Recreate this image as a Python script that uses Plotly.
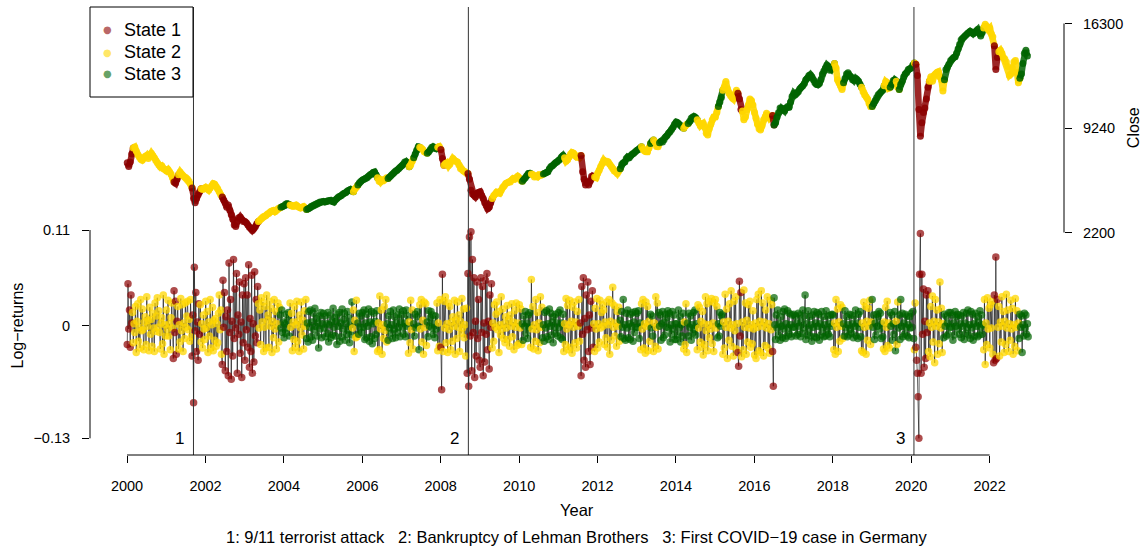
import pandas as pd
import plotly.graph_objects as go

years = list(range(2000, 2023))
state_names = ["State 1", "State 2", "State 3"]
state_colors = ["rgba(139,0,0,0.6)", "rgba(255,215,0,0.6)", "rgba(0,100,0,0.6)"]
state_colors_ret = ["rgba(139,0,0,0.7)", "rgba(255,215,0,0.75)", "rgba(0,100,0,0.7)"]
state_colors_close = ["rgba(139,0,0,0.85)", "rgba(255,215,0,0.9)", "rgba(0,100,0,0.85)"]

# regime switches (decimal year -> state)
regime_start = [2000.00, 2000.13, 2001.17, 2001.28, 2001.65, 2001.85, 2002.42, 2003.35, 2003.90, 2004.15,
                2004.58, 2005.74, 2005.87, 2006.38, 2006.63, 2007.17, 2007.30, 2007.45, 2007.65, 2007.90,
                2008.00, 2008.06, 2008.67, 2009.30, 2010.07, 2010.28, 2010.59, 2011.13, 2011.56, 2011.90,
                2012.58, 2013.09, 2013.35, 2013.42, 2013.55, 2014.19, 2014.28, 2014.54, 2015.05, 2015.18,
                2015.58, 2015.66, 2016.45, 2016.50, 2018.02, 2018.26, 2018.72, 2019.00, 2019.29, 2019.46,
                2019.60, 2019.67, 2020.07, 2020.12, 2020.43, 2020.82, 2021.84, 2022.10, 2022.20, 2022.75]
regime_state = [1, 2, 1, 2, 1, 2, 1, 2, 3, 2,
                3, 2, 3, 2, 3, 2, 3, 2, 3, 2,
                1, 2, 1, 2, 3, 2, 3, 2, 1, 2,
                3, 2, 3, 2, 3, 2, 3, 2, 3, 2,
                1, 2, 1, 3, 2, 3, 2, 3, 2, 3,
                2, 3, 2, 1, 2, 3, 2, 1, 2, 3]

# events
event_dates = ["2001-09-11", "2008-09-15", "2020-01-27"]
event_labels = ["1", "2", "3"]
event_caption = "1: 9/11 terrorist attack   2: Bankruptcy of Lehman Brothers   3: First COVID\u221219 case in Germany"

# closing prices, every two weeks
close_2000 = [6900, 6650, 6950, 7500, 7900, 7960, 7700, 7450, 7300, 7150, 7080, 7250, 7350, 7400, 7200, 7450, 7550, 7400, 7250, 7050, 6900, 6750, 6630, 6700, 6500, 6450]
close_2001 = [6350, 6450, 6300, 6150, 5900, 5600, 5520, 5800, 6100, 6290, 6150, 6050, 5950, 5900, 5800, 5650, 5450, 5200, 4500, 4200, 4500, 4750, 4950, 5150, 5100, 5160]
close_2002 = [5250, 5150, 5050, 5200, 5350, 5500, 5450, 5300, 5150, 4950, 4750, 4590, 4400, 4200, 3900, 4050, 3700, 3400, 3100, 2700, 2600, 2950, 3200, 3250, 3100, 2950]
close_2003 = [2950, 2850, 2700, 2550, 2450, 2340, 2450, 2600, 2800, 2950, 3050, 3150, 3250, 3300, 3350, 3450, 3500, 3600, 3650, 3690, 3600, 3700, 3800, 3850, 3900, 3950]
close_2004 = [4000, 4100, 4150, 4100, 4050, 4000, 3950, 4000, 4050, 3950, 3900, 3850, 3900, 3950, 3850, 3750, 3800, 3850, 3950, 4000, 4050, 4100, 4150, 4200, 4250, 4250]
close_2005 = [4300, 4250, 4300, 4350, 4350, 4370, 4300, 4250, 4400, 4500, 4600, 4650, 4700, 4800, 4850, 4900, 5000, 5050, 5100, 5000, 4950, 5150, 5250, 5400, 5550, 5650]
close_2006 = [5750, 5800, 5850, 5900, 6000, 6100, 6150, 6250, 6290, 6100, 5900, 5650, 5610, 5750, 5700, 5800, 5900, 5850, 5950, 6050, 6150, 6250, 6350, 6400, 6500, 6600]
close_2007 = [6700, 6800, 6950, 6970, 6850, 6630, 6750, 7000, 7250, 7500, 7750, 7980, 7950, 7900, 7800, 7650, 7600, 7550, 7650, 7800, 7950, 7980, 7900, 7850, 7950, 8000]
close_2008 = [7800, 7200, 6740, 6850, 6900, 6700, 6800, 7000, 7200, 7050, 7000, 6950, 6750, 6520, 6450, 6350, 6300, 6200, 6180, 5800, 5050, 4800, 4710, 4600, 4850, 4900]
close_2009 = [4950, 4700, 4500, 4200, 4000, 3810, 3900, 4200, 4500, 4700, 4800, 4930, 4900, 4850, 5050, 5250, 5350, 5500, 5550, 5610, 5600, 5750, 5850, 5800, 5900, 6000]
close_2010 = [5900, 5700, 5650, 5800, 5900, 6050, 6180, 6200, 6150, 6100, 5950, 6000, 5950, 6100, 6050, 6100, 6150, 6200, 6250, 6300, 6500, 6650, 6700, 6800, 6900, 6950]
close_2011 = [7050, 7150, 7300, 7400, 7250, 7000, 7100, 7300, 7500, 7600, 7550, 7400, 7300, 7350, 7250, 7400, 6300, 5800, 5400, 5600, 5400, 5700, 6000, 6000, 5950, 5900]
close_2012 = [6200, 6400, 6650, 6850, 7080, 6950, 7000, 6950, 6800, 6650, 6500, 6350, 6300, 6180, 6350, 6500, 6800, 6900, 6950, 7200, 7300, 7250, 7400, 7500, 7550, 7650]
close_2013 = [7750, 7800, 7900, 7980, 7800, 7700, 7650, 7640, 7900, 8200, 8350, 8440, 8300, 8000, 7980, 8250, 8350, 8300, 8450, 8650, 8750, 8900, 9000, 9150, 9300, 9500]
close_2014 = [9650, 9600, 9500, 9400, 9300, 9230, 9400, 9500, 9550, 9700, 9900, 10000, 10020, 9950, 9800, 9600, 9400, 9500, 9570, 9300, 8900, 8780, 9200, 9500, 9800, 10000]
close_2015 = [10000, 10300, 10700, 11000, 11300, 11800, 12000, 12390, 11900, 11600, 11450, 11300, 11200, 11500, 11800, 11600, 11200, 10500, 10400, 9800, 10000, 10500, 10800, 11200, 11100, 10800]
close_2016 = [10300, 9900, 9500, 9200, 9110, 9400, 9800, 10000, 10250, 10100, 9900, 10000, 10100, 9450, 9600, 10000, 10300, 10600, 10590, 10500, 10400, 10600, 10700, 10650, 11000, 11400]
close_2017 = [11600, 11500, 11600, 11700, 11900, 12000, 12100, 12250, 12500, 12600, 12800, 12840, 12700, 12500, 12300, 12200, 12160, 12250, 12500, 12900, 13100, 13300, 13500, 13400, 13150, 13200]
close_2018 = [13400, 13600, 13300, 12500, 12300, 12100, 11840, 12300, 12600, 12900, 12980, 12800, 12700, 12500, 12450, 12600, 12530, 12400, 12200, 12000, 11700, 11500, 11350, 11200, 10900, 10700]
close_2019 = [10700, 10900, 11100, 11300, 11500, 11600, 11700, 11800, 12100, 12390, 12300, 11940, 12000, 12200, 12450, 12500, 12400, 12000, 11840, 12200, 12400, 12700, 12900, 13000, 13200, 13250]
close_2020 = [13300, 13500, 13640, 13550, 12800, 10500, 8700, 9600, 10300, 10600, 11200, 12000, 12400, 12700, 12400, 12800, 12900, 13000, 13050, 12700, 12500, 11750, 12500, 13200, 13350, 13550]
close_2021 = [13800, 13900, 14000, 14050, 14300, 14600, 14900, 15200, 15300, 15400, 15500, 15600, 15700, 15780, 15700, 15600, 15700, 15800, 15900, 15650, 15450, 15700, 16000, 16250, 16100, 15900]
close_2022 = [16000, 15600, 15400, 14800, 13200, 14000, 14400, 14500, 14300, 14000, 13900, 13700, 13400, 12800, 12900, 13300, 13700, 13800, 13000, 12300, 12600, 12900, 13600, 14300, 14500, 14100]

# weekly log-returns, in thousandths
ret_2000 = [-22, 48, -4, 18, -25, 35, 3, 15, -20, 2, -8, 22, -31, 5, 25, -18, -2, -26, 30, -6, 19, -5, -28, 4, 10, -22, 33, -1, 6, -29, 21, -10, 7, -24, 14, -3, -30, 26, -7, 11, 32, -2, 17, -8, -27, 3, 9, -21, 35, -33, 1, -12]
ret_2001 = [18, -4, 29, -12, 2, -28, 9, 26, -3, -38, 40, -8, 28, -33, 5, 22, -27, 1, -19, 31, -6, 24, -30, 3, -15, 26, -2, 11, 28, -5, 7, -18, 30, -13, -35, 12, -89, 67, -6, 38, -30, 4, -40, 25, -10, 24, -19, 2, -26, 12, -4, -16]
ret_2002 = [28, -3, 16, -31, 4, -12, 30, -26, 1, 21, -29, 6, -17, 8, -24, 2, -20, 14, 35, -5, 18, -33, -45, 52, -2, 38, -52, 10, -30, 18, -58, 72, -8, 30, -62, 5, -35, 76, -15, 42, -3, 60, -55, 12, -10, 50, -32, 4, -60, 35, -20, 48]
ret_2003 = [-40, 55, -5, 35, -25, 70, -48, 8, -30, 58, -55, 2, -42, 62, -12, 30, -20, 45, 25, -3, 18, -22, 32, 4, 27, -30, -2, 22, -26, 35, 6, 12, -25, 28, -1, 20, -31, 5, -14, 30, -4, 16, -27, 2, 26, -19, 21, 12, -3, 18, -8, 4]
ret_2004 = [-14, 2, -9, 13, -3, 6, 15, -12, 26, -2, 14, -29, 4, -16, 22, -25, 1, 28, -18, 5, -30, 12, -3, 27, -11, 6, -27, 17, -1, 30, -15, 3, -19, 16, -2, 18, -13, 4, -17, 14, -5, 20, -1, 8, -12, 3, -26, 11, -4, 15, -14, 2]
ret_2005 = [14, -3, 11, -13, 2, -9, 15, -19, 1, 12, -14, 4, -11, 20, -2, 9, -12, 5, -22, 13, -1, 15, -18, 3, -13, 19, -4, 7, 14, -17, 2, -10, 16, -5, 9, -20, 1, -11, 27, -3, 18, -30, 6, -14, 29, -13, 3, -10, 14, -2, 11, -8]
ret_2006 = [15, -2, 18, -16, 3, -14, 13, -1, 19, -18, 4, -13, 16, -21, 2, 14, -15, 5, -10, 17, -30, 3, -28, 34, -4, 18, -33, 1, -15, 22, -6, 30, -19, 2, -17, 11, -3, 16, -9, 1, -15, 18, -4, 10, -14, 3, -8, 12, -2, 19, -13, 4]
ret_2007 = [12, -2, 17, -10, 3, -13, 18, -1, 11, -32, 4, -20, 29, -5, 18, -27, 2, -12, 13, -3, 10, 16, -1, -28, 24, -4, 30, -19, 6, -33, 27, -2, 25, -23, 4, -13, 17, -1, 9, 16, -3, 12, -10, 2, -14, 11, -4, 26, -29, 3, -24, 30]
ret_2008 = [-25, -74, 59, -30, 28, -3, 33, -20, 2, -31, 26, -5, 22, -28, 4, -18, 10, -1, 29, -33, 6, -15, 27, -2, 12, -30, 5, -9, 31, -3, 19, -14, 1, -35, 20, -55, 60, -70, 102, -12, 108, -52, 76, -8, 55, -60, 5, -35, 50, -15, 30, -40]
ret_2009 = [-48, 55, -8, 45, -58, 3, -42, 52, -10, 60, -28, 5, -50, 35, -2, 48, -26, 3, -18, 24, -2, 13, 27, -5, 16, -31, 1, -11, 33, -4, 19, -15, 2, -20, 10, -3, 23, -16, 6, -24, 12, -1, 25, -13, 4, -28, 17, -2, 26, -23, 3, -21]
ret_2010 = [24, -3, 19, -22, 2, -17, 11, -1, 16, -9, 3, -15, 12, -2, 15, -25, 53, -4, 22, -27, 1, -18, 30, -5, 15, -29, 3, -20, 33, -2, 21, -14, 1, -18, 15, -3, 17, -13, 2, -16, 19, -1, 14, -11, 4, -20, 10, -2, 13, -9, 3, -12]
ret_2011 = [15, -2, 18, -14, 3, -16, 13, -30, 2, -22, 31, -4, 23, -28, 1, 29, -25, 5, -32, 21, -2, 27, -20, 4, -26, 16, -1, 30, -18, 3, -58, 45, -10, 55, -40, 8, -48, 35, -5, 50, -30, 12, -45, 28, -3, 40, -25, 2, -30, 20, -4, 31]
ret_2012 = [-26, 2, -19, 29, -3, 15, 24, -1, 18, -22, 4, -14, 27, -25, 1, 30, -33, 5, -17, 26, 44, -2, 23, -12, 3, -24, 16, -1, 21, -18, 6, -13, 16, -2, 30, -15, 1, -17, 14, -3, 18, -14, 2, -16, 13, -1, 15, -18, 4, -8, 16, -2]
ret_2013 = [14, -2, 17, -15, 3, -28, 25, -4, 30, -26, 2, -32, 27, -1, 22, -29, 5, -18, 13, -3, 11, -12, -30, 3, -24, 33, -2, 26, -27, 15, -1, 12, -17, 2, 16, -14, 4, -11, 13, -2, 9, 17, -3, 14, -19, 1, -10, 16, -4, 12, -16, 2]
ret_2014 = [-16, 2, -11, 18, -3, 10, -19, 1, -12, 14, -27, 4, -22, 25, -31, 3, -12, 14, -2, 11, -17, 1, -9, 15, -4, 18, -11, 2, -28, 24, -3, 21, -19, 5, -25, 16, -34, 2, -22, 33, -6, 25, -29, 1, -14, 28, -4, 31, -21, 3, -30, 26]
ret_2015 = [30, -3, 22, -14, 2, -12, 15, -1, 11, 13, -33, 4, -26, 36, -2, 19, -38, 5, -17, 25, -3, 40, -24, 1, -35, 28, -6, 33, -27, 2, -31, -47, 51, -12, 38, -36, 4, -28, 41, -2, 26, -33, 6, -19, 24, -3, 28, -25, 1, -21, 17, -4]
ret_2016 = [-34, 3, -38, 30, -2, 36, -29, 5, -31, 40, -1, 26, -35, 4, -23, 18, -3, 33, -26, 2, -32, 29, -5, 24, -30, -70, 32, 1, -16, 12, -3, 18, -11, 2, -17, 10, -1, -14, 16, -4, 19, -15, 2, -12, 17, -3, 14, -10, 1, -13, 12, -2]
ret_2017 = [13, -2, 11, -12, 3, -10, 14, -1, 12, -13, 4, -9, 18, -3, 11, 35, -16, 2, -11, 17, -4, 10, -12, 1, -18, 12, -2, 16, -13, 3, -14, 15, -1, 13, -17, 2, -11, 16, -3, 10, -13, 1, -12, 17, -5, 11, -10, 2, -13, 12, -1, 13]
ret_2018 = [12, -28, 3, -33, 30, -2, 19, -30, 4, -18, 24, -1, 21, -15, 2, -12, 17, -3, 10, -13, 1, -11, 13, -4, 12, -9, 2, -14, 11, -1, 18, -12, 3, -15, 13, -2, 16, -13, -29, 3, -31, 27, -2, 22, -33, 5, -17, 20, -1, 29, -22, 4]
ret_2019 = [30, -2, 12, -16, 3, -11, 13, -1, 10, 16, -4, 14, -15, 2, -13, -27, 4, -30, 21, -2, 28, -23, 3, -26, 15, -1, 12, -17, 2, -10, 16, -29, 5, -22, 27, -3, 12, -16, 30, -1, 14, -13, 3, -10, 13, -2, 11, -12, 1, -14, 10, -3]
ret_2020 = [14, -2, 16, -15, -28, 26, -25, -40, -55, -82, -130, 59, 106, -55, 59, -10, 42, -48, 5, -38, 35, -8, 40, -30, 3, -36, 22, -2, 34, -19, 5, -43, 30, -1, 18, -33, 4, -21, 50, -3, 20, -31, 2, -14, 13, -1, 11, -12, 3, -10, 15, -2]
ret_2021 = [15, -2, 12, -17, 3, -11, 16, -1, 10, 13, -4, 12, -10, 2, -14, 11, -1, 15, -16, 3, -9, 14, -2, 18, -11, 1, -15, 16, -3, 13, -17, 2, -12, 14, -1, 10, -13, 4, -11, 17, -2, 12, -10, 1, -28, 30, -45, 3, -22, 32, -4, 20]
ret_2022 = [-26, 24, -3, 28, -33, -43, 35, -40, 79, -38, 30, -2, 22, -35, 4, -19, 33, -1, 16, -31, 5, -22, 36, -3, 18, -30, 2, -17, 29, -4, 20, -33, 1, -24, 31, -2, 17, -29, 3, -15, 13, -2, 11, -31, 1, -12, 14, -3, 12, -10, 2, -13]

close_by_year = [close_2000, close_2001, close_2002, close_2003, close_2004, close_2005, close_2006, close_2007,
                 close_2008, close_2009, close_2010, close_2011, close_2012, close_2013, close_2014, close_2015,
                 close_2016, close_2017, close_2018, close_2019, close_2020, close_2021, close_2022]
ret_by_year = [ret_2000, ret_2001, ret_2002, ret_2003, ret_2004, ret_2005, ret_2006, ret_2007,
               ret_2008, ret_2009, ret_2010, ret_2011, ret_2012, ret_2013, ret_2014, ret_2015,
               ret_2016, ret_2017, ret_2018, ret_2019, ret_2020, ret_2021, ret_2022]


def dec_year(d):
    return d.year + (d.dayofyear - 1) / 365.25


def state_at(t):
    s = regime_state[0]
    for st, v in zip(regime_start, regime_state):
        if t >= st:
            s = v
    return s


close_x, close_y, close_s = [], [], []
ret_x, ret_y, ret_c = [], [], []
for y, cl, rt in zip(years, close_by_year, ret_by_year):
    for d, v in zip(pd.date_range(f"{y}-01-03", periods=len(cl), freq="14D"), cl):
        close_x.append(d)
        close_y.append(v)
        close_s.append(state_at(dec_year(d)))
    for d, v in zip(pd.date_range(f"{y}-01-03", periods=len(rt), freq="7D"), rt):
        ret_x.append(d)
        ret_y.append(v / 1000.0)
        ret_c.append(state_colors_ret[state_at(dec_year(d)) - 1])

FONT = "Liberation Sans, Arial, sans-serif"

fig = go.Figure()
fig.add_trace(go.Scatter(x=ret_x, y=ret_y, mode="lines", line=dict(color="black", width=0.6),
                         showlegend=False, hoverinfo="skip"))
fig.add_trace(go.Scatter(x=ret_x, y=ret_y, mode="markers",
                         marker=dict(color=ret_c, size=7.5, line=dict(width=0)), showlegend=False))

# close price: one stroke per run of the same state
n = len(close_x)
start = 0
for i in range(1, n + 1):
    if i == n or close_s[i] != close_s[start]:
        idx = list(range(start, min(i + 1, n)))
        col = state_colors_close[close_s[start] - 1]
        fig.add_trace(go.Scatter(x=[close_x[j] for j in idx], y=[close_y[j] for j in idx],
                                 mode="lines+markers", yaxis="y2", showlegend=False,
                                 line=dict(color=col, width=6.5, shape="linear"),
                                 marker=dict(color=col, size=7, line=dict(width=0))))
        start = i

tick_years = list(range(2000, 2023, 2))
shapes = []
for d in event_dates:
    shapes.append(dict(type="line", xref="x", yref="paper", x0=d, x1=d, y0=0, y1=1,
                       line=dict(color="#333333", width=1), layer="above"))
# legend box
shapes.append(dict(type="rect", xref="paper", yref="paper", x0=0, x1=103 / 974, y0=1 - 90 / 448, y1=1,
                   fillcolor="white", line=dict(color="black", width=1), layer="above"))
# R-style axis lines spanning the tick range only
shapes.append(dict(type="line", xref="x", yref="paper", x0="2000-01-01", x1="2022-01-01", y0=0, y1=0,
                   line=dict(color="black", width=1)))
shapes.append(dict(type="line", xref="paper", yref="y", x0=0, x1=0, y0=-0.13, y1=0.11,
                   line=dict(color="black", width=1)))
shapes.append(dict(type="line", xref="paper", yref="y2", x0=1, x1=1, y0=2200, y1=16300,
                   line=dict(color="black", width=1)))

annotations = []
for d, lab in zip(event_dates, event_labels):
    annotations.append(dict(x=d, y=-0.13, xref="x", yref="y", text=lab, showarrow=False,
                            xanchor="right", yanchor="middle", xshift=-7, font=dict(size=17, color="black")))
annotations.append(dict(x=0.5, y=(455 - 510) / 448, xref="paper", yref="paper", text="Year", showarrow=False,
                        xanchor="center", yanchor="middle", font=dict(size=16.5, color="black")))
annotations.append(dict(x=0.5, y=(455 - 537) / 448, xref="paper", yref="paper", text=event_caption,
                        showarrow=False, xanchor="center", yanchor="middle", font=dict(size=16.5, color="black")))
annotations.append(dict(x=(17 - 90) / 974, y=0, xref="paper", yref="y", text="Log\u2212returns", showarrow=False,
                        textangle=-90, xanchor="center", yanchor="middle", font=dict(size=16, color="black")))
annotations.append(dict(x=(1133 - 90) / 974, y=9240, xref="paper", yref="y2", text="Close", showarrow=False,
                        textangle=-90, xanchor="center", yanchor="middle", font=dict(size=16, color="black")))
# legend entries
for k, (name, col) in enumerate(zip(state_names, state_colors)):
    ypix = 30 + 22 * k
    annotations.append(dict(x=(107 - 90) / 974, y=(455 - ypix) / 448, xref="paper", yref="paper", text="\u25CF",
                            showarrow=False, xanchor="center", yanchor="middle",
                            font=dict(size=10, color=col, family="DejaVu Sans")))
    annotations.append(dict(x=(122 - 90) / 974, y=(455 - ypix) / 448, xref="paper", yref="paper", text=name,
                            showarrow=False, xanchor="left", yanchor="middle", font=dict(size=18, color="black")))

fig.update_layout(
    width=1146, height=549,
    margin=dict(l=90, r=82, t=7, b=94, pad=0),
    paper_bgcolor="white", plot_bgcolor="white",
    font=dict(family=FONT, color="black", size=14.5),
    xaxis=dict(type="date", range=["1999-01-21", "2023-11-25"], showgrid=False, zeroline=False, showline=False,
               tickvals=[f"{y}-01-01" for y in tick_years], ticktext=[str(y) for y in tick_years],
               ticks="outside", ticklen=7, tickcolor="black", tickwidth=1, ticklabelstandoff=11,
               tickfont=dict(size=14.5)),
    yaxis=dict(range=[-0.14919, 0.36694], showgrid=False, zeroline=False, showline=False,
               tickvals=[-0.13, 0, 0.11], ticktext=["\u22120.13", "0", "0.11"],
               ticks="outside", ticklen=7, tickcolor="black", tickwidth=1, ticklabelstandoff=9,
               tickfont=dict(size=14.5)),
    yaxis2=dict(range=[-12810, 17413], overlaying="y", side="right", showgrid=False, zeroline=False,
                showline=False, tickvals=[2200, 9240, 16300], ticktext=["2200", "9240", "16300"],
                ticks="outside", ticklen=7, tickcolor="black", tickwidth=1, ticklabelstandoff=8,
                tickfont=dict(size=14.5)),
    showlegend=False,
    shapes=shapes,
    annotations=annotations,
)

fig.write_html("out.html", config={"displayModeBar": False},
               post_script="document.body.style.margin='0px';document.body.style.padding='0px';")
